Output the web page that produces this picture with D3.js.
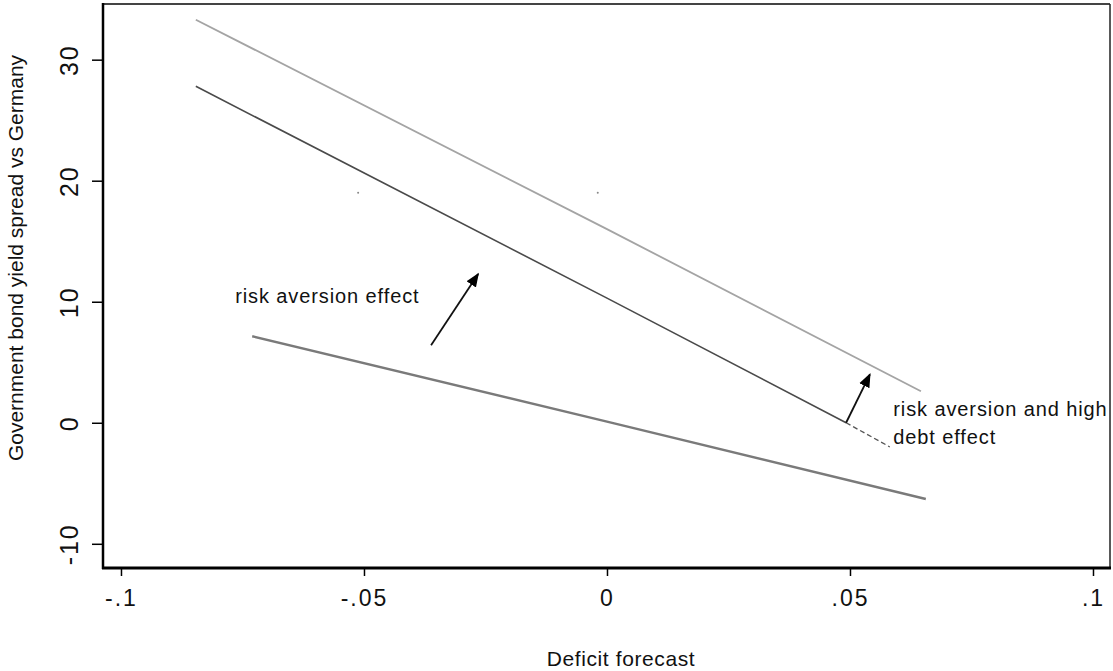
<!DOCTYPE html>
<html>
<head>
<meta charset="utf-8">
<script src="https://cdn.jsdelivr.net/npm/d3@7"></script>
<style>
  html, body { margin: 0; padding: 0; background: #fff; }
  svg { display: block; font-family: "Liberation Sans", Arial, sans-serif; }
</style>
</head>
<body>
<svg id="chart" width="1113" height="671"></svg>
<script>
// ---- data ----
const xTickValues = [-0.1, -0.05, 0, 0.05, 0.1];
const xTickLabels = ["-.1", "-.05", "0", ".05", ".1"];
const yTickValues = [-10, 0, 10, 20, 30];
const yTickLabels = ["-10", "0", "10", "20", "30"];

const xTitle = "Deficit forecast";
const yTitle = "Government bond yield spread vs Germany";

// fitted lines: deficit forecast (x) vs spread (y)
const highDebtX = [-0.0846, 0, 0.0646];
const highDebtY = [33.3, 16.0, 2.6];
const riskAversionX = [-0.0846, 0, 0.0492, 0.0582];
const riskAversionY = [27.8, 10.3, 0.0, -2.0];
const baselineX = [-0.073, 0, 0.0656];
const baselineY = [7.15, 0.1, -6.3];

// stray points
const strayX = [-0.0512, -0.0019];
const strayY = [19.0, 19.0];

// annotations
const arrowFromX = [-0.0362, 0.0492];
const arrowFromY = [6.4, 0.0];
const arrowToX = [-0.0265, 0.0541];
const arrowToY = [12.3, 4.0];

const noteText = ["risk aversion effect", "risk aversion and high", "debt effect"];
const noteX = [-0.0765, 0.0589, 0.0589];
const noteY = [9.9, 0.55, -1.75];

// ---- drawing ----
const svg = d3.select("#chart");
const frame = { left: 103, right: 1110, top: 4, bottom: 568 };

const x = d3.scaleLinear().domain([-0.1037, 0.1035]).range([frame.left, frame.right]);
const y = d3.scaleLinear().domain([-12.0, 34.6]).range([frame.bottom, frame.top]);

// x axis
const xAxis = svg.append("g")
  .attr("transform", `translate(0,${frame.bottom})`)
  .call(d3.axisBottom(x).tickValues(xTickValues)
    .tickFormat((d, i) => xTickLabels[i]).tickSize(8).tickPadding(14).tickSizeOuter(0));
xAxis.select(".domain").remove();
xAxis.selectAll(".tick line").attr("stroke", "#000").attr("stroke-width", 1.5);
xAxis.selectAll(".tick text")
  .attr("font-size", 23).attr("fill", "#111")
  .attr("font-family", "'Liberation Sans', Arial, sans-serif")
  .style("letter-spacing", "2px");

// y axis
const yAxis = svg.append("g")
  .attr("transform", `translate(${frame.left},0)`)
  .call(d3.axisLeft(y).tickValues(yTickValues)
    .tickFormat((d, i) => yTickLabels[i]).tickSize(11).tickSizeOuter(0));
yAxis.select(".domain").remove();
yAxis.selectAll(".tick line").attr("stroke", "#000").attr("stroke-width", 1.5);
yAxis.selectAll(".tick text")
  .attr("font-size", 25).attr("fill", "#111")
  .attr("font-family", "'Liberation Sans', Arial, sans-serif")
  .attr("x", 0).attr("y", -25).attr("dy", 0)
  .attr("text-anchor", "middle")
  .attr("transform", "rotate(-90)")
  .style("letter-spacing", "2px");

// frame
svg.append("line").attr("x1", frame.left).attr("x2", frame.right)
  .attr("y1", frame.top).attr("y2", frame.top)
  .attr("stroke", "#444").attr("stroke-width", 2);
svg.append("line").attr("x1", frame.right).attr("x2", frame.right)
  .attr("y1", frame.top).attr("y2", frame.bottom)
  .attr("stroke", "#222").attr("stroke-width", 1.5);
svg.append("line").attr("x1", frame.left).attr("x2", frame.left)
  .attr("y1", frame.top - 1).attr("y2", frame.bottom + 1)
  .attr("stroke", "#000").attr("stroke-width", 2.5);
svg.append("line").attr("x1", frame.left - 1).attr("x2", frame.right + 1)
  .attr("y1", frame.bottom).attr("y2", frame.bottom)
  .attr("stroke", "#000").attr("stroke-width", 3);

// lines
const line = d3.line().x(d => x(d[0])).y(d => y(d[1]));
const zip = (a, b) => a.map((v, i) => [v, b[i]]);

svg.append("path").datum(zip(highDebtX, highDebtY))
  .attr("d", line).attr("fill", "none")
  .attr("stroke", "#a4a4a4").attr("stroke-width", 1.8);

const ra = zip(riskAversionX, riskAversionY);
svg.append("path").datum(ra.slice(0, 3))
  .attr("d", line).attr("fill", "none")
  .attr("stroke", "#4a4a4a").attr("stroke-width", 1.6);
svg.append("path").datum(ra.slice(2))
  .attr("d", line).attr("fill", "none")
  .attr("stroke", "#555").attr("stroke-width", 1.3)
  .attr("stroke-dasharray", "5,3");

svg.append("path").datum(zip(baselineX, baselineY))
  .attr("d", line).attr("fill", "none")
  .attr("stroke", "#7a7a7a").attr("stroke-width", 2.4);

// stray points
svg.selectAll("circle.stray").data(zip(strayX, strayY)).enter()
  .append("circle").attr("class", "stray")
  .attr("cx", d => x(d[0])).attr("cy", d => y(d[1])).attr("r", 1)
  .attr("fill", "#888");

// arrows
const defs = svg.append("defs");
defs.append("marker").attr("id", "head")
  .attr("viewBox", "0 0 10 10").attr("refX", 9).attr("refY", 5)
  .attr("markerWidth", 14).attr("markerHeight", 14)
  .attr("markerUnits", "userSpaceOnUse").attr("orient", "auto")
  .append("path").attr("d", "M0,1 L10,5 L0,9 Z").attr("fill", "#000");

svg.selectAll("line.arrow").data(arrowFromX.map((d, i) => i)).enter()
  .append("line").attr("class", "arrow")
  .attr("x1", i => x(arrowFromX[i])).attr("y1", i => y(arrowFromY[i]))
  .attr("x2", i => x(arrowToX[i])).attr("y2", i => y(arrowToY[i]))
  .attr("stroke", "#111").attr("stroke-width", 1.8)
  .attr("marker-end", "url(#head)");

// notes
svg.selectAll("text.note").data(noteText).enter()
  .append("text").attr("class", "note")
  .attr("x", (d, i) => x(noteX[i])).attr("y", (d, i) => y(noteY[i]))
  .attr("font-size", 20).attr("fill", "#111")
  .style("letter-spacing", "0.9px")
  .text(d => d);

// axis titles
svg.append("text").attr("x", 621).attr("y", 666)
  .attr("text-anchor", "middle").attr("font-size", 21).attr("fill", "#111")
  .style("letter-spacing", "0.6px")
  .text(xTitle);
svg.append("text")
  .attr("transform", `translate(23,258) rotate(-90)`)
  .attr("text-anchor", "middle").attr("font-size", 21).attr("fill", "#111")
  .text(yTitle);
</script>
</body>
</html>
